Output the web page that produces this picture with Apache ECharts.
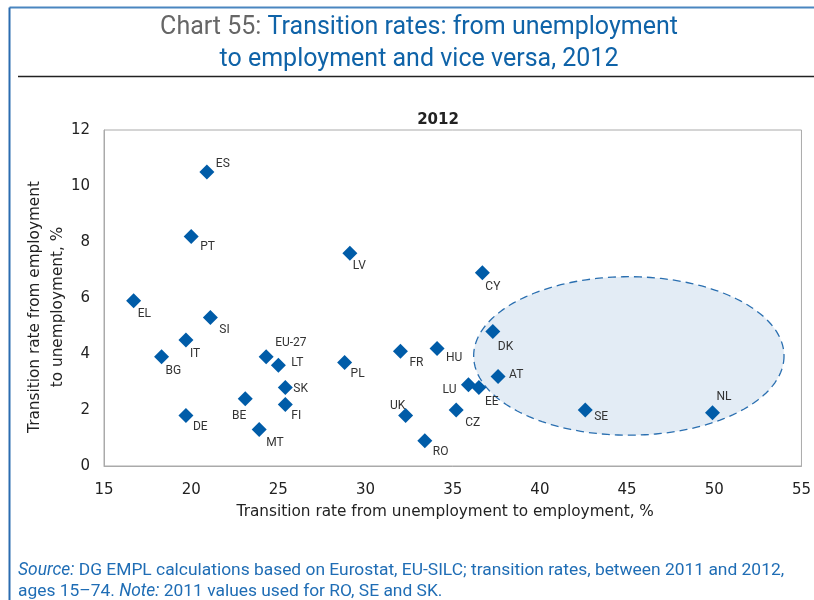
<!DOCTYPE html>
<html>
<head>
<meta charset="utf-8">
<script src="https://cdn.jsdelivr.net/npm/echarts@6/dist/echarts.min.js"></script>
<style>
html,body{margin:0;padding:0;background:#fff;}
#chart{width:814px;height:600px;}
</style>
</head>
<body>
<div id="chart"></div>
<script>
// ---- data ----
var countries = ['ES','PT','LV','EL','SI','IT','BG','EU-27','LT','PL','SK','BE','FI','DE','MT','CY','DK','FR','HU','AT','LU','EE','CZ','UK','RO','SE','NL'];
var uToE = [20.9,20.0,29.1,16.7,21.1,19.7,18.3,24.3,25.0,28.8,25.4,23.1,25.4,19.7,23.9,36.7,37.3,32.0,34.1,37.6,35.9,36.5,35.2,32.3,33.4,42.6,49.9];
var eToU = [10.5,8.2,7.6,5.9,5.3,4.5,3.9,3.9,3.6,3.7,2.8,2.4,2.2,1.8,1.3,6.9,4.8,4.1,4.2,3.2,2.9,2.8,2.0,1.8,0.9,2.0,1.9];
var xTicks = [15,20,25,30,35,40,45,50,55];
var yTicks = [0,2,4,6,8,10,12];
// highlighted group: centre x, centre y, half-width, half-height (data units)
var highlightEllipse = [[45.1, 3.93, 8.9, 2.83]];

// ---- label placement (style) ----
var labelPlace = {
  'ES':[9,-8,'left'],'PT':[9,11,'left'],'LV':[3,13,'left'],'EL':[4,13,'left'],
  'SI':[9,12,'left'],'IT':[4,14,'left'],'BG':[4,14,'left'],'EU-27':[9,-14,'left'],
  'LT':[13,-2,'left'],'PL':[6,12,'left'],'SK':[8,1,'left'],'BE':[-6,17,'center'],
  'FI':[6,12,'left'],'DE':[7,11,'left'],'MT':[7,13,'left'],'CY':[3,14,'left'],
  'DK':[5,15,'left'],'FR':[9,12,'left'],'HU':[9,10,'left'],'AT':[11,-1,'left'],
  'LU':[-12,5,'right'],'EE':[6,14,'left'],'CZ':[9,13,'left'],'UK':[-8,-10,'center'],
  'RO':[8,11,'left'],'SE':[9,7,'left'],'NL':[4,-16,'left']
};

var narrow = 'Roboto,"Noto Sans",sans-serif';
var sans = '"DejaVu Sans",Verdana,sans-serif';

var points = countries.map(function(c,i){
  var p = labelPlace[c];
  return {
    name: c,
    value: [uToE[i], eToU[i]],
    label: {offset:[p[0],p[1]], align:p[2]}
  };
});

var chart = echarts.init(document.getElementById('chart'), null, {renderer:'canvas'});
chart.setOption({
  animation:false,
  backgroundColor:'#fff',
  title:[
    {
      text:'{g|Chart 55: }{b|Transition rates: from unemployment}\n{b|to employment and vice versa, 2012}',
      left:414, top:7, textAlign:'center',
      textStyle:{
        rich:{
          g:{color:'#666666', fontSize:25, fontWeight:'normal', fontFamily:narrow, lineHeight:32},
          b:{color:'#0f63a8', fontSize:25, fontWeight:'normal', fontFamily:narrow, lineHeight:32}
        }
      }
    },
    {
      text:'2012', left:433, top:108, textAlign:'center',
      textStyle:{fontFamily:sans, fontSize:15, fontWeight:'bold', color:'#222'}
    },
    {
      text:'{i|Source:} DG EMPL calculations based on Eurostat, EU-SILC; transition rates, between 2011 and 2012,\nages 15\u201374. {i|Note:} 2011 values used for RO, SE and SK.',
      left:13, top:555,
      textStyle:{
        color:'#1f6db5', fontSize:17.4, fontWeight:'normal', fontFamily:narrow, lineHeight:21,
        rich:{i:{fontStyle:'italic', fontWeight:'normal', color:'#1f6db5', fontSize:17.4, fontFamily:narrow, lineHeight:21}}
      }
    }
  ],
  graphic:[
    {type:'line', shape:{x1:9.5,y1:7.5,x2:814,y2:7.5}, style:{stroke:'#4a86c0', lineWidth:2}, silent:true},
    {type:'line', shape:{x1:9.5,y1:7.5,x2:9.5,y2:600}, style:{stroke:'#2b6cb0', lineWidth:2}, silent:true},
    {type:'line', shape:{x1:18,y1:76.5,x2:814,y2:76.5}, style:{stroke:'#222', lineWidth:1.6}, silent:true}
  ],
  grid:{left:104, top:130, width:700, height:336, show:true, borderColor:'#aaaaaa', borderWidth:1, backgroundColor:'transparent'},
  xAxis:{
    type:'value', min:xTicks[0], max:xTicks[xTicks.length-1], interval:5,
    name:'Transition rate from unemployment to employment, %',
    nameLocation:'middle', nameGap:39, nameMoveOverlap:false,
    nameTextStyle:{fontFamily:sans, fontSize:15.3, color:'#222', padding:[0,15,0,0]},
    axisLine:{lineStyle:{color:'#aaaaaa'}},
    axisTick:{show:false}, splitLine:{show:false},
    axisLabel:{fontFamily:sans, fontSize:15, color:'#222', margin:17}
  },
  yAxis:{
    type:'value', min:yTicks[0], max:yTicks[yTicks.length-1], interval:2,
    name:'Transition rate from employment\nto unemployment, %',
    nameLocation:'middle', nameGap:34, nameRotate:90, nameMoveOverlap:false,
    nameTextStyle:{fontFamily:sans, fontSize:15.3, color:'#222', lineHeight:23, padding:[0,18,0,0]},
    axisLine:{show:true, lineStyle:{color:'#aaaaaa'}},
    axisTick:{show:false}, splitLine:{show:false},
    axisLabel:{fontFamily:sans, fontSize:15, color:'#222', margin:14}
  },
  series:[
    {
      type:'custom', z:1, silent:true,
      data: highlightEllipse,
      renderItem:function(params, api){
        var c = api.coord([api.value(0), api.value(1)]);
        var s = api.size([api.value(2), api.value(3)]);
        var pts = [];
        for (var k=0;k<=180;k++){
          var t = k/180*Math.PI*2;
          pts.push([c[0]+s[0]*Math.cos(t), c[1]+s[1]*Math.sin(t)]);
        }
        return {type:'polygon', shape:{points:pts},
          style:{fill:'#e3ecf5', stroke:'#2a6fb0', lineWidth:1.3, lineDash:[8,5]}};
      }
    },
    {
      type:'scatter', z:3,
      symbol:'diamond', symbolSize:15,
      itemStyle:{color:'#005ca8', opacity:1},
      data: points,
      label:{
        show:true, position:'inside', formatter:'{b}',
        verticalAlign:'middle',
        fontFamily:narrow, fontSize:12, color:'#333'
      }
    }
  ]
});
</script>
</body>
</html>
